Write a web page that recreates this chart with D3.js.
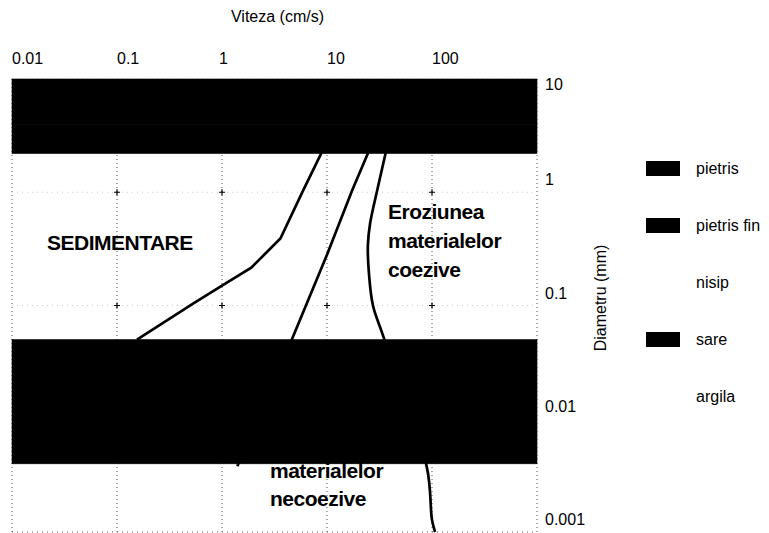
<!DOCTYPE html>
<html>
<head>
<meta charset="utf-8">
<script src="https://cdn.jsdelivr.net/npm/d3@7"></script>
<style>
	body { margin: 0; background: #fff; }
	text { font-family: "Liberation Sans", Arial, sans-serif; fill: #000; }
</style>
</head>
<body>
<div id="chart-area"></div>
<script>
// valori
const xTicks = [0.01, 0.1, 1, 10, 100]
const yTicks = [0.001, 0.01, 0.1, 1, 10]

const bandNames  = ["pietris", "pietris fin", "nisip", "sare", "argila"]
const bandLow    = [4, 2.2, 0.05, 0.004, 0.001]
const bandHigh   = [10, 4, 2.2, 0.05, 0.004]
const bandColors = ["#000", "#000", "#fff", "#000", "#fff"]

// curba de sedimentare
const sedVel  = [9.0, 5.9, 3.6, 1.9, 1.0, 0.53, 0.155]
const sedDiam = [2.3, 1.03, 0.39, 0.216, 0.15, 0.104, 0.05]
// limita eroziune materiale necoezive
const midVel  = [25, 17.3, 10, 6.3, 4.7, 1.4]
const midDiam = [2.3, 1.03, 0.28, 0.10, 0.052, 0.0038]
// limita eroziune materiale coezive
const eroVel  = [36.5, 30, 25.7, 24.5, 25.1, 27.4, 34, 89.5, 100, 107]
const eroDiam = [2.3, 1.03, 0.527, 0.338, 0.191, 0.1, 0.055, 0.0037, 0.00128, 0.001]

let margin = {left: 12, right: 232, top: 79, bottom: 1};
let width = 769 - margin.left - margin.right;
let height = 533 - margin.top - margin.bottom;

let svg = d3.select("#chart-area")
			.append("svg")
			.attr("width", 769)
			.attr("height", 533);

let g = svg.append("g")
			.attr("transform", "translate(" + margin.left + "," + margin.top + ")");

let xVal = d3.scaleLog()
		.domain([0.01, 1000])
		.range([0, width]);

let yVal = d3.scaleLog()
		.domain([0.001, 10])
		.range([height, 0]);

// grila punctata
let grid = g.append("g")
grid.selectAll(".vgrid")
	.data(xTicks.concat([1000]))
	.enter()
	.append("line")
	.attr("x1", d => xVal(d)).attr("x2", d => xVal(d))
	.attr("y1", 0).attr("y2", height)
	.attr("stroke", "#555")
	.attr("stroke-dasharray", "1,3")
grid.selectAll(".hgrid")
	.data(yTicks)
	.enter()
	.append("line")
	.attr("x1", 0).attr("x2", width)
	.attr("y1", d => yVal(d)).attr("y2", d => yVal(d))
	.attr("stroke", d => d == 0.001 ? "#555" : "#ccc")
	.attr("stroke-dasharray", "1,4")

// cruciulite la intersectii
let crosses = []
xTicks.slice(1).forEach(x => [0.1, 1].forEach(y => crosses.push([x, y])))
grid.selectAll(".cross")
	.data(crosses)
	.enter()
	.append("path")
	.attr("d", d => "M" + (xVal(d[0]) - 3) + "," + yVal(d[1]) + "h6M" + xVal(d[0]) + "," + (yVal(d[1]) - 3) + "v6")
	.attr("stroke", "#000")
	.attr("stroke-width", 1.2)

// curbe
let curve = d3.line()
			.x(p => xVal(p[0]))
			.y(p => yVal(p[1]))

let curves = [
	[d3.zip(sedVel, sedDiam), d3.curveLinear],
	[d3.zip(midVel, midDiam), d3.curveLinear],
	[d3.zip(eroVel, eroDiam), d3.curveCatmullRom]
]
curves.forEach(c => {
	g.append("path")
		.attr("d", curve.curve(c[1])(c[0]))
		.attr("fill", "none")
		.attr("stroke", "#000")
		.attr("stroke-width", 2.7)
})

// etichete zone
let labels = g.append("g").attr("font-weight", "bold").attr("font-size", "21px")
labels.append("text")
	.attr("x", 35).attr("y", 171)
	.attr("letter-spacing", "-0.5")
	.text("SEDIMENTARE")
let ero1 = labels.append("text").attr("letter-spacing", "-0.5")
;["Eroziunea", "materialelor", "coezive"].forEach((t, i) => {
	ero1.append("tspan").attr("x", 376).attr("y", 140 + i * 29).text(t)
})
let ero2 = labels.append("text").attr("letter-spacing", "-0.5")
;["Eroziunea", "materialelor", "necoezive"].forEach((t, i) => {
	ero2.append("tspan").attr("x", 258).attr("y", 371 + i * 28).text(t)
})

// benzi granulometrice
g.selectAll(".band")
	.data(bandNames)
	.enter()
	.append("rect")
	.attr("x", 0)
	.attr("width", width)
	.attr("y", (d, i) => yVal(bandHigh[i]))
	.attr("height", (d, i) => yVal(bandLow[i]) - yVal(bandHigh[i]))
	.attr("fill", (d, i) => bandColors[i] == "#fff" ? "none" : bandColors[i])
	.attr("stroke", (d, i) => bandColors[i] == "#fff" ? "none" : bandColors[i])
	.attr("stroke-width", 0.6)

// axa X sus
let xAxis_group = g.append("g")
		.attr("font-size", "16px")
xAxis_group.selectAll("text")
	.data(xTicks)
	.enter()
	.append("text")
	.attr("x", d => xVal(d) + (d == 1 ? -3 : 0))
	.attr("y", -15)
	.text(d => d3.format("~g")(d))

g.append("text")
	.attr("x", width / 2 + 3)
	.attr("y", -57)
	.attr("text-anchor", "middle")
	.attr("font-size", "16px")
	.text("Viteza (cm/s)")

// axa Y dreapta
let yAxis_group = g.append("g")
		.attr("font-size", "16px")
yAxis_group.selectAll("text")
	.data(yTicks)
	.enter()
	.append("text")
	.attr("x", width + 8)
	.attr("y", d => d == 10 ? 11 : yVal(d) - 7)
	.text(d => d3.format("~g")(d))

g.append("text")
	.attr("transform", "rotate(-90)")
	.attr("x", -219)
	.attr("y", width + 69)
	.attr("text-anchor", "middle")
	.attr("font-size", "16px")
	.text("Diametru (mm)")

// legenda
let legend = svg.append("g")
	.selectAll("g")
	.data(bandNames)
	.enter()
	.append("g")
	.attr("transform", (d, i) => "translate(646," + (168 + i * 57) + ")")
legend.append("rect")
	.attr("x", 0).attr("y", -7)
	.attr("width", 34).attr("height", 15)
	.attr("fill", (d, i) => bandColors[i])
legend.append("text")
	.attr("x", 50).attr("y", 6)
	.attr("font-size", "16px")
	.text(d => d)
</script>
</body>
</html>
